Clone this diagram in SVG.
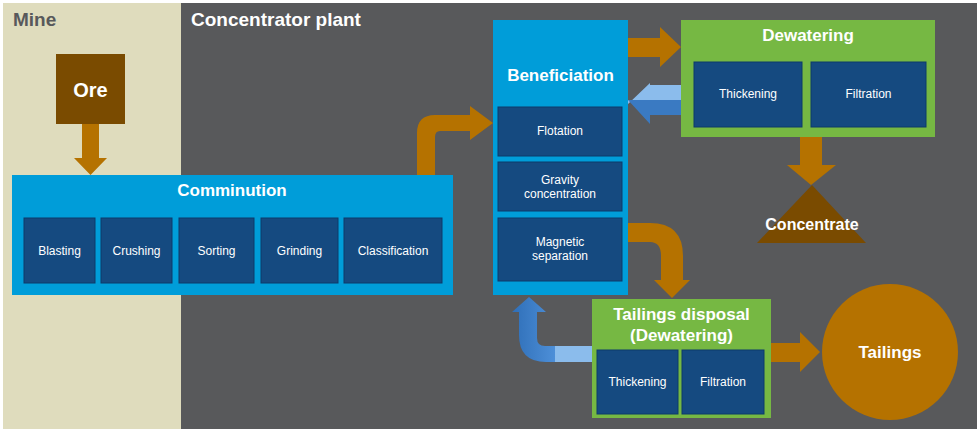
<svg xmlns="http://www.w3.org/2000/svg" width="980" height="432" viewBox="0 0 980 432">
<defs>
<style>
text{font-family:"Liberation Sans",Arial,sans-serif;fill:#fff;text-anchor:middle}
.t{font-weight:bold;font-size:17px}
.s{font-size:12px}
.sub{fill:#154a80;stroke:#0c3a6a;stroke-width:1}
.or{fill:#b57200}
</style>
<linearGradient id="bg" x1="0" y1="0" x2="1" y2="0"><stop offset="0" stop-color="#2f6fb8"/><stop offset="1" stop-color="#4d8fd8"/></linearGradient>
</defs>
<rect x="0" y="0" width="980" height="432" fill="#fff"/>
<rect x="3" y="3" width="178" height="426" fill="#dfdcbd"/>
<rect x="181" y="3" width="796" height="426" fill="#58595b"/>
<text x="13" y="26" style="font-weight:bold;font-size:19px;fill:#58595b;text-anchor:start">Mine</text>
<text x="191" y="26" style="font-weight:bold;font-size:19px;text-anchor:start">Concentrator plant</text>
<g id="connectors">
<path class="or" d="M82 124H99V158H107L90.5 175L74 158H82Z"/>
<path class="or" d="M417 176V133Q417 115 435 115H470V106L493 123L470 140V131H440Q435 131 435 137V176Z"/>
<path class="or" d="M628 38H660V27L681 47L660 67V57H628Z"/>
<path fill="#8bbcec" d="M681 85H650V83L628 104V100H681Z"/>
<path fill="#3a7ac2" d="M681 100H628L650 124V115H681Z"/>
<path class="or" d="M800 137H822V165H836L811 185L787 165H800Z"/>
<path class="or" d="M628 223H650Q683 223 683 256V280H690L672 298L654 280H661V256Q661 242 650 242H628Z"/>
<path class="or" d="M771 343H800V332L820 352L800 372V362H771Z"/>
<path fill="#8bbcec" d="M555 346H592V362H555Z"/>
<path fill="url(#bg)" d="M555 346H545Q537 346 537 338V312H546L529 297L512 312H519V335Q519 362 546 362H555Z"/>
</g>
<g id="ore"><rect x="56" y="54" width="69" height="70" fill="#7a4b00"/><text x="90.5" y="97" style="font-weight:bold;font-size:20px">Ore</text></g>
<g id="comminution">
<rect x="12" y="175" width="441" height="120" fill="#009dd9"/>
<text x="232" y="196" class="t">Comminution</text>
<rect class="sub" x="24" y="218" width="71" height="65"/><text class="s" x="59.5" y="255">Blasting</text>
<rect class="sub" x="101" y="218" width="71" height="65"/><text class="s" x="136.5" y="255">Crushing</text>
<rect class="sub" x="179" y="218" width="75" height="65"/><text class="s" x="216.5" y="255">Sorting</text>
<rect class="sub" x="261" y="218" width="77" height="65"/><text class="s" x="299.5" y="255">Grinding</text>
<rect class="sub" x="344" y="218" width="98" height="65"/><text class="s" x="393" y="255">Classification</text>
</g>
<g id="beneficiation">
<rect x="493" y="20" width="135" height="275" fill="#009dd9"/>
<text x="560.5" y="81" class="t">Beneficiation</text>
<rect class="sub" x="498" y="107" width="124" height="49"/><text class="s" x="560" y="135">Flotation</text>
<rect class="sub" x="498" y="162" width="124" height="49"/><text class="s" x="560" y="184">Gravity</text><text class="s" x="560" y="198">concentration</text>
<rect class="sub" x="498" y="218" width="124" height="63"/><text class="s" x="560" y="246">Magnetic</text><text class="s" x="560" y="260">separation</text>
</g>
<g id="dewatering">
<rect x="681" y="20" width="254" height="117" fill="#76b843"/>
<text x="808" y="41" class="t">Dewatering</text>
<rect class="sub" x="694" y="62" width="108" height="65"/><text class="s" x="748" y="98">Thickening</text>
<rect class="sub" x="811" y="62" width="115" height="65"/><text class="s" x="868.5" y="98">Filtration</text>
</g>
<g id="concentrate"><path d="M812 185L866 243H757Z" fill="#7a4b00"/><text x="812" y="230" class="t" style="font-size:16px">Concentrate</text></g>
<g id="tailings-disposal">
<rect x="592" y="299" width="179" height="119" fill="#76b843"/>
<text x="681.5" y="320" class="t">Tailings disposal</text>
<text x="681.5" y="341" class="t">(Dewatering)</text>
<rect class="sub" x="597" y="350" width="81" height="64"/><text class="s" x="637.5" y="386">Thickening</text>
<rect class="sub" x="682" y="350" width="82" height="64"/><text class="s" x="723" y="386">Filtration</text>
</g>
<g id="tailings"><circle cx="890" cy="352" r="68" class="or"/><text x="890" y="358" class="t">Tailings</text></g>
</svg>
